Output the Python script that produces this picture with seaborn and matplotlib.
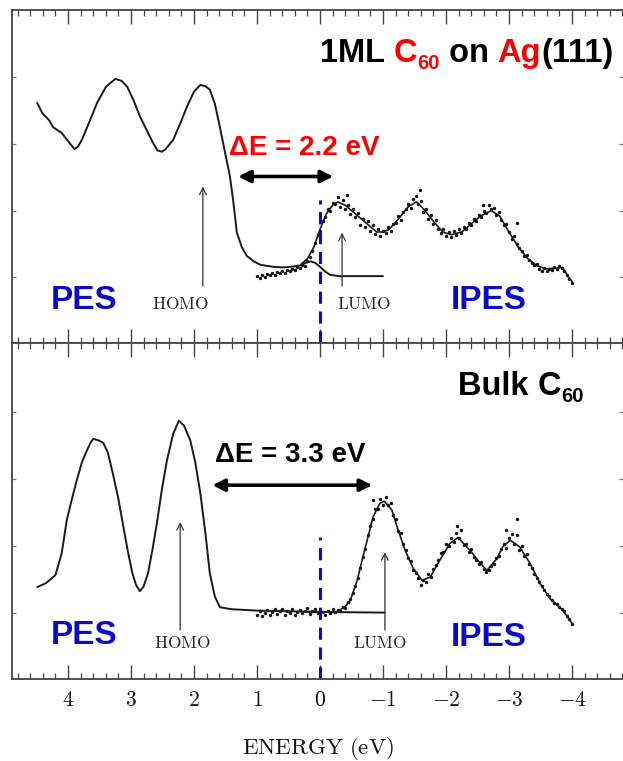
import pandas as pd
import seaborn as sns
import matplotlib.pyplot as plt
from matplotlib.ticker import MultipleLocator, FixedLocator, FuncFormatter

# ---- values: (energy eV, intensity a.u.) ----
ml_pes = [(4.49, 2.61), (4.41, 2.46), (4.30, 2.35), (4.24, 2.25), (4.10, 2.16), (4.00, 2.04),
          (3.90, 1.92), (3.84, 1.96), (3.78, 2.06), (3.66, 2.33), (3.54, 2.61), (3.40, 2.85),
          (3.25, 2.97), (3.15, 2.94), (3.06, 2.85), (2.96, 2.65), (2.86, 2.41), (2.75, 2.20),
          (2.65, 2.01), (2.58, 1.90), (2.51, 1.88), (2.45, 1.92), (2.33, 2.06), (2.22, 2.30),
          (2.11, 2.56), (2.00, 2.78), (1.90, 2.88), (1.82, 2.86), (1.75, 2.81), (1.67, 2.60),
          (1.59, 2.25), (1.51, 1.88), (1.43, 1.51), (1.38, 1.16), (1.32, 0.67), (1.24, 0.45),
          (1.16, 0.32), (1.05, 0.24), (0.95, 0.19), (0.75, 0.16), (0.59, 0.15), (0.45, 0.16),
          (0.32, 0.18), (0.22, 0.22), (0.15, 0.24), (0.08, 0.22), (0.00, 0.16), (-0.08, 0.09),
          (-0.16, 0.04), (-0.30, 0.02), (-1.00, 0.02)]
ml_ipes_fit = [(0.30, 0.20), (0.20, 0.28), (0.10, 0.45), (0.00, 0.72), (-0.10, 0.95), (-0.20, 1.08),
               (-0.28, 1.13), (-0.40, 1.08), (-0.50, 1.00), (-0.60, 0.92), (-0.75, 0.80), (-0.90, 0.68),
               (-1.00, 0.68), (-1.10, 0.72), (-1.25, 0.88), (-1.40, 1.06), (-1.53, 1.13), (-1.65, 1.02),
               (-1.80, 0.84), (-1.95, 0.68), (-2.08, 0.64), (-2.25, 0.68), (-2.40, 0.80), (-2.55, 0.92),
               (-2.72, 1.00), (-2.85, 0.92), (-3.00, 0.68), (-3.15, 0.45), (-3.30, 0.28), (-3.45, 0.17),
               (-3.60, 0.13), (-3.75, 0.14), (-3.85, 0.15), (-3.95, 0.00), (-4.00, -0.06)]
ml_ipes_dots = [(1.00, 0.02), (0.96, -0.01), (0.92, 0.04), (0.88, 0.01), (0.84, 0.05), (0.80, 0.03),
                (0.76, 0.07), (0.72, 0.04), (0.68, 0.08), (0.64, 0.06), (0.60, 0.10), (0.56, 0.07),
                (0.52, 0.11), (0.48, 0.09), (0.44, 0.13), (0.40, 0.11), (0.36, 0.15), (0.32, 0.14),
                (0.28, 0.19), (0.24, 0.17), (0.20, 0.25), (0.16, 0.30), (0.12, 0.40), (0.08, 0.52),
                (0.04, 0.63), (0.00, 0.70), (-0.04, 0.84), (-0.08, 0.90), (-0.12, 1.03), (-0.16, 1.00),
                (-0.20, 1.12), (-0.24, 1.10), (-0.28, 1.20), (-0.32, 1.06), (-0.36, 1.16), (-0.40, 1.02),
                (-0.44, 1.08), (-0.48, 0.95), (-0.52, 1.03), (-0.56, 0.90), (-0.60, 0.97), (-0.64, 0.79),
                (-0.68, 0.88), (-0.72, 0.76), (-0.76, 0.84), (-0.80, 0.70), (-0.84, 0.78), (-0.88, 0.65),
                (-0.92, 0.72), (-0.96, 0.62), (-1.00, 0.70), (-1.04, 0.66), (-1.08, 0.75), (-1.12, 0.70),
                (-1.16, 0.80), (-1.20, 0.82), (-1.24, 0.92), (-1.28, 0.86), (-1.32, 0.98), (-1.36, 1.02),
                (-1.40, 1.10), (-1.44, 1.04), (-1.48, 1.18), (-1.52, 1.22), (-1.56, 1.10), (-1.60, 1.15),
                (-1.64, 0.98), (-1.68, 1.02), (-1.72, 0.88), (-1.76, 0.94), (-1.80, 0.80), (-1.84, 0.86),
                (-1.88, 0.72), (-1.92, 0.66), (-1.96, 0.72), (-2.00, 0.62), (-2.04, 0.68), (-2.08, 0.60),
                (-2.12, 0.70), (-2.16, 0.63), (-2.20, 0.72), (-2.24, 0.66), (-2.28, 0.76), (-2.32, 0.72),
                (-2.36, 0.82), (-2.40, 0.78), (-2.44, 0.88), (-2.48, 0.84), (-2.52, 0.94), (-2.56, 0.90),
                (-2.60, 1.00), (-2.64, 0.96), (-2.68, 1.08), (-2.72, 1.02), (-2.76, 1.04), (-2.80, 0.94),
                (-2.84, 0.98), (-2.88, 0.86), (-2.92, 0.78), (-2.96, 0.80), (-3.00, 0.68), (-3.04, 0.58),
                (-3.08, 0.62), (-3.12, 0.50), (-3.16, 0.44), (-3.20, 0.40), (-3.24, 0.32), (-3.28, 0.34),
                (-3.32, 0.26), (-3.36, 0.22), (-3.40, 0.18), (-3.44, 0.20), (-3.48, 0.13), (-3.52, 0.10),
                (-3.56, 0.14), (-3.60, 0.09), (-3.64, 0.13), (-3.68, 0.11), (-3.72, 0.16), (-3.76, 0.12),
                (-3.80, 0.17), (-3.84, 0.14), (-3.88, 0.10), (-3.92, 0.04), (-3.96, -0.02), (-4.00, -0.08),
                (-0.43, 1.24), (-1.59, 1.31), (-2.59, 1.09), (-3.13, 0.82)]

bulk_pes = [(4.49, 0.39), (4.35, 0.45), (4.20, 0.57), (4.10, 0.90), (4.02, 1.39), (3.94, 1.70),
            (3.86, 1.99), (3.78, 2.25), (3.70, 2.43), (3.64, 2.55), (3.60, 2.60), (3.52, 2.58),
            (3.44, 2.54), (3.37, 2.40), (3.29, 2.09), (3.20, 1.70), (3.12, 1.28), (3.05, 0.92),
            (2.98, 0.60), (2.92, 0.42), (2.86, 0.33), (2.80, 0.40), (2.73, 0.60), (2.66, 0.95),
            (2.59, 1.34), (2.51, 1.85), (2.43, 2.28), (2.33, 2.68), (2.24, 2.87), (2.16, 2.80),
            (2.06, 2.58), (1.98, 2.25), (1.90, 1.79), (1.82, 1.20), (1.75, 0.60), (1.67, 0.25),
            (1.59, 0.09), (1.40, 0.06), (1.00, 0.04), (0.50, 0.03), (0.00, 0.02), (-1.03, 0.01)]
bulk_ipes_fit = [(0.20, 0.02), (-0.27, 0.02), (-0.40, 0.10), (-0.48, 0.19), (-0.59, 0.49), (-0.68, 0.84),
                 (-0.76, 1.13), (-0.84, 1.43), (-0.95, 1.64), (-1.02, 1.67), (-1.14, 1.54), (-1.24, 1.24),
                 (-1.35, 0.94), (-1.48, 0.67), (-1.62, 0.49), (-1.75, 0.54), (-1.90, 0.79), (-2.06, 1.04),
                 (-2.19, 1.13), (-2.38, 0.94), (-2.54, 0.75), (-2.65, 0.64), (-2.81, 0.82), (-2.90, 0.99),
                 (-3.02, 1.09), (-3.17, 0.99), (-3.33, 0.75), (-3.49, 0.45), (-3.65, 0.22), (-3.86, 0.04),
                 (-4.00, -0.15)]
bulk_ipes_dots = [(1.00, -0.02), (0.96, 0.03), (0.92, -0.04), (0.88, 0.01), (0.84, 0.05), (0.80, -0.03),
                  (0.76, 0.02), (0.72, 0.06), (0.68, -0.01), (0.64, 0.04), (0.60, 0.07), (0.56, -0.02),
                  (0.52, 0.03), (0.48, 0.01), (0.44, 0.06), (0.40, -0.03), (0.36, 0.02), (0.32, 0.05),
                  (0.28, 0.00), (0.24, 0.04), (0.20, 0.08), (0.16, -0.01), (0.12, 0.03), (0.08, 0.06),
                  (0.04, 0.01), (0.00, 0.05), (-0.04, 0.02), (-0.08, -0.02), (-0.12, 0.04), (-0.16, 0.01),
                  (-0.20, 0.07), (-0.24, 0.02), (-0.28, 0.05), (-0.32, 0.03), (-0.36, 0.10), (-0.40, 0.08),
                  (-0.44, 0.17), (-0.48, 0.22), (-0.52, 0.30), (-0.56, 0.40), (-0.60, 0.52), (-0.64, 0.68),
                  (-0.68, 0.84), (-0.72, 0.96), (-0.76, 1.16), (-0.80, 1.30), (-0.84, 1.40), (-0.88, 1.56),
                  (-0.92, 1.55), (-0.96, 1.70), (-1.00, 1.62), (-1.04, 1.74), (-1.08, 1.62), (-1.12, 1.64),
                  (-1.16, 1.46), (-1.20, 1.40), (-1.24, 1.22), (-1.28, 1.20), (-1.32, 1.04), (-1.36, 0.94),
                  (-1.40, 0.82), (-1.44, 0.78), (-1.48, 0.64), (-1.52, 0.60), (-1.56, 0.52), (-1.60, 0.42),
                  (-1.64, 0.50), (-1.68, 0.46), (-1.72, 0.58), (-1.76, 0.54), (-1.80, 0.66), (-1.84, 0.72),
                  (-1.88, 0.80), (-1.92, 0.90), (-1.96, 0.92), (-2.00, 1.04), (-2.04, 1.00), (-2.08, 1.12),
                  (-2.12, 1.06), (-2.16, 1.20), (-2.20, 1.12), (-2.24, 1.24), (-2.28, 1.02), (-2.32, 1.04),
                  (-2.36, 0.92), (-2.40, 0.96), (-2.44, 0.84), (-2.48, 0.80), (-2.52, 0.74), (-2.56, 0.76),
                  (-2.60, 0.66), (-2.64, 0.62), (-2.68, 0.64), (-2.72, 0.70), (-2.76, 0.74), (-2.80, 0.82),
                  (-2.84, 0.86), (-2.88, 0.96), (-2.92, 1.04), (-2.96, 0.98), (-3.00, 1.12), (-3.04, 1.18),
                  (-3.08, 1.04), (-3.12, 1.16), (-3.16, 0.94), (-3.20, 1.00), (-3.24, 0.86), (-3.28, 0.88),
                  (-3.32, 0.74), (-3.36, 0.68), (-3.40, 0.58), (-3.44, 0.52), (-3.48, 0.46), (-3.52, 0.40),
                  (-3.56, 0.34), (-3.60, 0.28), (-3.64, 0.26), (-3.68, 0.20), (-3.72, 0.16), (-3.76, 0.14),
                  (-3.80, 0.10), (-3.84, 0.06), (-3.88, 0.04), (-3.92, -0.04), (-3.96, -0.08), (-4.00, -0.16),
                  (-0.84, 1.69), (-3.12, 1.40), (-2.18, 1.30), (-2.95, 1.24)]

# annotations: HOMO / LUMO positions and gaps
ml_homo, ml_lumo, ml_gap = 1.86, -0.35, "2.2"
bulk_homo, bulk_lumo, bulk_gap = 2.22, -1.03, "3.3"
x_ticks = [4, 3, 2, 1, 0, -1, -2, -3, -4]

sns.set_theme(style="white")
plt.rcParams["font.family"] = ["Liberation Sans", "DejaVu Sans"]
plt.rcParams["mathtext.fontset"] = "cm"

BLUE = "#0a0ac8"
SPINE = "#444444"

fig = plt.figure(figsize=(6.23, 7.61), dpi=100)
ax1 = fig.add_axes([12 / 623, 1 - 343 / 761, 1 - 12 / 623, 333 / 761])
ax2 = fig.add_axes([12 / 623, 1 - 679 / 761, 1 - 12 / 623, 336 / 761])


def to_df(pairs):
    return pd.DataFrame(pairs, columns=["E", "I"])


def style_axes(ax, ylim):
    ax.set_xlim(4.89, -4.81)
    ax.set_ylim(*ylim)
    ax.xaxis.set_major_locator(FixedLocator(x_ticks))
    ax.xaxis.set_minor_locator(MultipleLocator(0.2))
    ax.yaxis.set_major_locator(FixedLocator([0, 1, 2, 3]))
    ax.tick_params(axis="x", which="major", direction="in", length=10, width=1.0,
                   top=True, bottom=True, color=SPINE)
    ax.tick_params(axis="x", which="minor", direction="in", length=4.5, width=0.9,
                   top=True, bottom=True, color=SPINE)
    ax.tick_params(axis="y", which="major", direction="in", length=3, width=0.9,
                   left=True, right=True, labelleft=False, color="#777777")
    for side in ["left", "top", "bottom"]:
        ax.spines[side].set_color(SPINE)
        ax.spines[side].set_linewidth(1.3)
    ax.spines["right"].set_visible(False)
    ax.set_xlabel("")
    ax.set_ylabel("")


def draw_panel(ax, pes, fit, dots):
    sns.lineplot(data=to_df(pes), x="E", y="I", sort=False, estimator=None,
                 color="#1a1a1a", lw=1.4, ax=ax)
    sns.lineplot(data=to_df(fit), x="E", y="I", sort=False, estimator=None,
                 color="#1a1a1a", lw=1.2, ax=ax)
    sns.scatterplot(data=to_df(dots), x="E", y="I", s=6, marker="o",
                    color="#111111", linewidth=0, ax=ax)


def rich_title(ax, x, y, parts, size=23.5):
    base = prev = None
    for s, color, sub in parts:
        kw = dict(color=color, fontweight="bold", ha="left")
        if base is None:
            t = ax.text(x, y, s, fontsize=size, va="baseline", **kw)
            base = t
        elif sub:
            t = ax.annotate(s, xy=(1, 0), xycoords=prev, xytext=(0, -2.5),
                            textcoords="offset points", fontsize=size * 0.62,
                            va="bottom", **kw)
        else:
            t = ax.annotate(s, xy=(1, 0), xycoords=(prev, base), fontsize=size,
                            va="bottom", **kw)
        prev = t


def arrow_up(ax, x, y0, y1):
    ax.annotate("", xy=(x, y1), xytext=(x, y0),
                arrowprops=dict(arrowstyle="->", lw=0.9, color="#333333",
                                shrinkA=0, shrinkB=0, mutation_scale=12))


def gap_arrow(ax, x0, x1, y):
    ax.annotate("", xy=(x1, y), xytext=(x0, y),
                arrowprops=dict(arrowstyle="<|-|>", lw=2.6, color="black",
                                shrinkA=0, shrinkB=0, mutation_scale=18))


# ---- top panel: 1 ML C60 on Ag(111) ----
draw_panel(ax1, ml_pes, ml_ipes_fit, ml_ipes_dots)
style_axes(ax1, (-0.98, 4.0))
ax1.tick_params(axis="x", labelbottom=False)
arrow_up(ax1, ml_homo, -0.13, 1.36)
arrow_up(ax1, ml_lumo, -0.13, 0.67)
ax1.text(2.22, -0.39, r"$\mathrm{HOMO}$", fontsize=12.5, ha="center", va="center")
ax1.text(-0.70, -0.39, r"$\mathrm{LUMO}$", fontsize=12.5, ha="center", va="center")
ax1.text(3.75, -0.34, "PES", color=BLUE, fontsize=24, fontweight="bold", ha="center", va="center")
ax1.text(-2.68, -0.34, "IPES", color=BLUE, fontsize=24, fontweight="bold", ha="center", va="center")
gap_arrow(ax1, 1.30, -0.21, 1.51)
ax1.text(0.25, 1.94, f"ΔE = {ml_gap} eV", color="#ff0000", fontsize=20,
         fontweight="bold", ha="center", va="center")
ax1.vlines(0, -0.98, 1.16, colors=BLUE, lw=2.2, linestyles=(0, (4, 2.5)))
rich_title(ax1, 0.0, 3.22, [("1ML ", "black", False), ("C", "#ff0000", False),
                            ("60", "#ff0000", True), (" on ", "black", False),
                            ("Ag", "#ff0000", False), ("(111)", "black", False)])

# ---- bottom panel: bulk C60 ----
draw_panel(ax2, bulk_pes, bulk_ipes_fit, bulk_ipes_dots)
style_axes(ax2, (-0.98, 4.03))
ax2.xaxis.set_major_formatter(FuncFormatter(lambda v, p: f"${v:.0f}$"))
ax2.tick_params(axis="x", which="major", labelsize=15.5, pad=8, labelcolor="#111111")
arrow_up(ax2, bulk_homo, -0.25, 1.36)
arrow_up(ax2, bulk_lumo, -0.25, 0.91)
ax2.text(2.19, -0.45, r"$\mathrm{HOMO}$", fontsize=12.5, ha="center", va="center")
ax2.text(-0.95, -0.45, r"$\mathrm{LUMO}$", fontsize=12.5, ha="center", va="center")
ax2.text(3.75, -0.33, "PES", color=BLUE, fontsize=24, fontweight="bold", ha="center", va="center")
ax2.text(-2.68, -0.36, "IPES", color=BLUE, fontsize=24, fontweight="bold", ha="center", va="center")
gap_arrow(ax2, 1.71, -0.83, 1.91)
ax2.text(0.476, 2.36, f"ΔE = {bulk_gap} eV", color="black", fontsize=20,
         fontweight="bold", ha="center", va="center")
ax2.vlines(0, -0.98, 1.13, colors=BLUE, lw=2.2, linestyles=(0, (4, 2.5)))
rich_title(ax2, -2.19, 3.25, [("Bulk ", "black", False), ("C", "black", False),
                              ("60", "black", True)])

fig.text(0.5 + 6 / 623, 1 - 748 / 761, r"$\mathrm{ENERGY\ (eV)}$", fontsize=16.5,
         ha="center", va="center", color="#111111")

fig.savefig("out.png", dpi=100)
